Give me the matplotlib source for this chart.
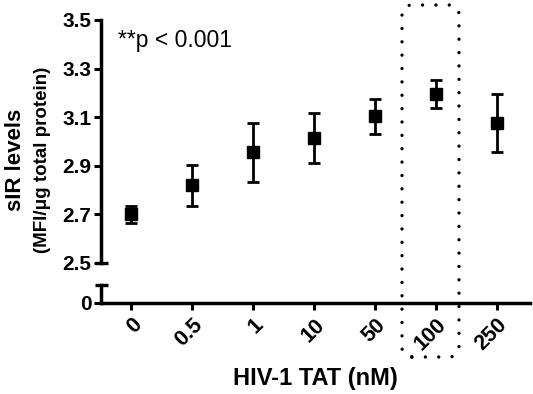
import matplotlib
matplotlib.use('Agg')
import matplotlib.pyplot as plt
from matplotlib.patches import FancyBboxPatch

plt.rcParams['font.family'] = ['Liberation Sans', 'DejaVu Sans']

# HIV-1 TAT doses and sIR levels (mean with error)
doses = ['0', '0.5', '1', '10', '50', '100', '250']
means = [2.700, 2.819, 2.955, 3.016, 3.103, 3.196, 3.075]
errors = [0.036, 0.085, 0.120, 0.103, 0.071, 0.059, 0.120]
yticks_top = [2.5, 2.7, 2.9, 3.1, 3.3, 3.5]

fig = plt.figure(figsize=(5.33, 3.94), dpi=100)
ax = fig.add_axes([0.1895, 0.3325, 0.805, 0.6168])
axb = fig.add_axes([0.1895, 0.2315, 0.805, 0.045], sharex=ax)

x = list(range(len(doses)))
ax.errorbar(x, means, yerr=errors, fmt='s', color='black', markersize=8,
            elinewidth=2, capsize=4.5, capthick=2)

ax.set_ylim(2.5, 3.5)
ax.set_yticks(yticks_top)
ax.set_yticklabels([f'{v:.1f}' for v in yticks_top])
ax.set_xlim(-0.5, 6.55)
for s in ['top', 'right', 'bottom']:
    ax.spines[s].set_visible(False)
ax.spines['left'].set_linewidth(2.5)
ax.tick_params(axis='y', width=2.2, length=5, labelsize=15, pad=2)
ax.tick_params(axis='x', bottom=False, labelbottom=False)
for lab in ax.get_yticklabels():
    lab.set_fontweight('bold')

# break caps
ax.plot([-0.015, 0.016], [2.5, 2.5], color='black', lw=2.4,
        transform=ax.get_yaxis_transform(), clip_on=False, solid_capstyle='butt')

axb.set_ylim(0, 1)
axb.set_yticks([0])
axb.set_yticklabels(['0'])
for s in ['top', 'right']:
    axb.spines[s].set_visible(False)
axb.spines['left'].set_linewidth(2.5)
axb.spines['bottom'].set_linewidth(2.5)
axb.tick_params(axis='y', width=2.2, length=5, labelsize=15, pad=2)
axb.tick_params(axis='x', width=2.2, length=5, labelsize=15.5)
axb.set_xticks(x)
axb.set_xticklabels(doses, rotation=45, ha='right', rotation_mode='anchor',
                    fontweight='bold')
for lab in axb.get_yticklabels():
    lab.set_fontweight('bold')
axb.plot([-0.015, 0.016], [1, 1], color='black', lw=2.4,
         transform=axb.get_yaxis_transform(), clip_on=False, solid_capstyle='butt')

ax.text(0.04, 0.915, '**p < 0.001', transform=ax.transAxes, fontsize=16.5,
        va='center', ha='left')

fig.text(0.591, 0.04, 'HIV-1 TAT (nM)', fontsize=17, fontweight='bold',
         ha='center', va='center')
fig.text(0.030, 0.594, 'sIR levels', fontsize=16, fontweight='bold',
         rotation=90, ha='center', va='center')
fig.text(0.080, 0.594, '(MFI/\u03bcg total protein)', fontsize=13.5,
         fontweight='bold', rotation=90, ha='center', va='center')

# dotted highlight box around the 100 nM dose
box = FancyBboxPatch((4.02, 0.37), 0.57, 3.52,
                     boxstyle='round,pad=0,rounding_size=0.1',
                     transform=fig.dpi_scale_trans, fill=False,
                     edgecolor='black', linewidth=2.4,
                     linestyle=(0, (0.01, 4.0)))
box.set_capstyle('round')
fig.patches.append(box)

fig.savefig('out.png', dpi=100)
